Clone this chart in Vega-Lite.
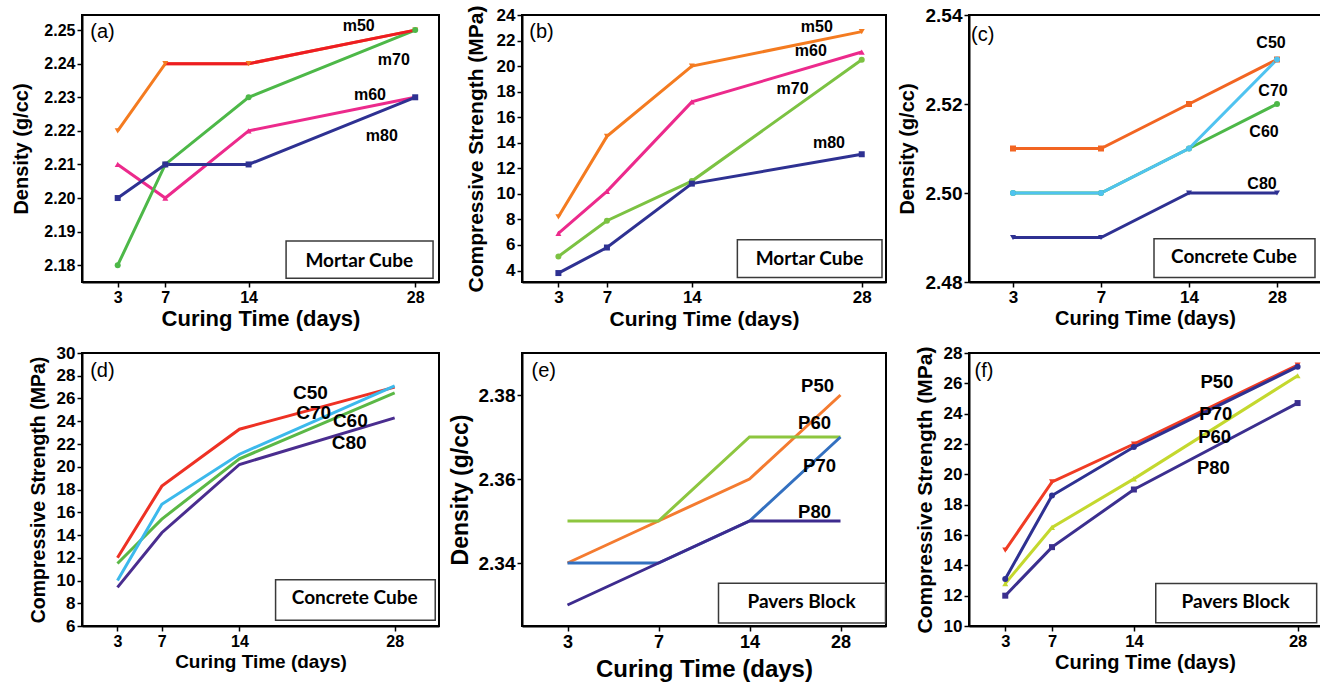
{
 "$schema": "https://vega.github.io/schema/vega-lite/v6.json",
 "background": "white",
 "padding": {"left": 10, "top": 3, "right": 0, "bottom": 0},
 "columns": 3,
 "spacing": {"row": 71, "column": 83},
 "bounds": "flush",
 "resolve": {"scale": {"x": "independent", "y": "independent", "color": "independent", "shape": "independent"}},
 "datasets": {
  "a": [
   {"series": "m50", "day": 3, "value": 2.22}, {"series": "m50", "day": 7, "value": 2.24}, {"series": "m50", "day": 14, "value": 2.24}, {"series": "m50", "day": 28, "value": 2.25},
   {"series": "m60", "day": 3, "value": 2.21}, {"series": "m60", "day": 7, "value": 2.20}, {"series": "m60", "day": 14, "value": 2.22}, {"series": "m60", "day": 28, "value": 2.23},
   {"series": "m70", "day": 3, "value": 2.18}, {"series": "m70", "day": 7, "value": 2.21}, {"series": "m70", "day": 14, "value": 2.23}, {"series": "m70", "day": 28, "value": 2.25},
   {"series": "m80", "day": 3, "value": 2.20}, {"series": "m80", "day": 7, "value": 2.21}, {"series": "m80", "day": 14, "value": 2.21}, {"series": "m80", "day": 28, "value": 2.23}
  ],
  "b": [
   {"series": "m50", "day": 3, "value": 8.2}, {"series": "m50", "day": 7, "value": 14.5}, {"series": "m50", "day": 14, "value": 20.0}, {"series": "m50", "day": 28, "value": 22.7},
   {"series": "m60", "day": 3, "value": 6.9}, {"series": "m60", "day": 7, "value": 10.2}, {"series": "m60", "day": 14, "value": 17.2}, {"series": "m60", "day": 28, "value": 21.1},
   {"series": "m70", "day": 3, "value": 5.1}, {"series": "m70", "day": 7, "value": 7.9}, {"series": "m70", "day": 14, "value": 11.0}, {"series": "m70", "day": 28, "value": 20.5},
   {"series": "m80", "day": 3, "value": 3.8}, {"series": "m80", "day": 7, "value": 5.8}, {"series": "m80", "day": 14, "value": 10.8}, {"series": "m80", "day": 28, "value": 13.1}
  ],
  "c": [
   {"series": "C50", "day": 3, "value": 2.51}, {"series": "C50", "day": 7, "value": 2.51}, {"series": "C50", "day": 14, "value": 2.52}, {"series": "C50", "day": 28, "value": 2.53},
   {"series": "C60", "day": 3, "value": 2.50}, {"series": "C60", "day": 7, "value": 2.50}, {"series": "C60", "day": 14, "value": 2.51}, {"series": "C60", "day": 28, "value": 2.52},
   {"series": "C70", "day": 3, "value": 2.50}, {"series": "C70", "day": 7, "value": 2.50}, {"series": "C70", "day": 14, "value": 2.51}, {"series": "C70", "day": 28, "value": 2.53},
   {"series": "C80", "day": 3, "value": 2.49}, {"series": "C80", "day": 7, "value": 2.49}, {"series": "C80", "day": 14, "value": 2.50}, {"series": "C80", "day": 28, "value": 2.50}
  ],
  "d": [
   {"series": "C50", "day": 3, "value": 12.0}, {"series": "C50", "day": 7, "value": 18.3}, {"series": "C50", "day": 14, "value": 23.3}, {"series": "C50", "day": 28, "value": 27.0},
   {"series": "C60", "day": 3, "value": 11.5}, {"series": "C60", "day": 7, "value": 15.4}, {"series": "C60", "day": 14, "value": 20.7}, {"series": "C60", "day": 28, "value": 26.5},
   {"series": "C70", "day": 3, "value": 10.0}, {"series": "C70", "day": 7, "value": 16.7}, {"series": "C70", "day": 14, "value": 21.1}, {"series": "C70", "day": 28, "value": 27.1},
   {"series": "C80", "day": 3, "value": 9.4}, {"series": "C80", "day": 7, "value": 14.2}, {"series": "C80", "day": 14, "value": 20.2}, {"series": "C80", "day": 28, "value": 24.3}
  ],
  "e": [
   {"series": "P50", "day": 3, "value": 2.34}, {"series": "P50", "day": 7, "value": 2.35}, {"series": "P50", "day": 14, "value": 2.36}, {"series": "P50", "day": 28, "value": 2.38},
   {"series": "P60", "day": 3, "value": 2.35}, {"series": "P60", "day": 7, "value": 2.35}, {"series": "P60", "day": 14, "value": 2.37}, {"series": "P60", "day": 28, "value": 2.37},
   {"series": "P70", "day": 3, "value": 2.34}, {"series": "P70", "day": 7, "value": 2.34}, {"series": "P70", "day": 14, "value": 2.35}, {"series": "P70", "day": 28, "value": 2.37},
   {"series": "P80", "day": 3, "value": 2.33}, {"series": "P80", "day": 7, "value": 2.34}, {"series": "P80", "day": 14, "value": 2.35}, {"series": "P80", "day": 28, "value": 2.35}
  ],
  "f": [
   {"series": "P50", "day": 3, "value": 15.0}, {"series": "P50", "day": 7, "value": 19.5}, {"series": "P50", "day": 14, "value": 22.0}, {"series": "P50", "day": 28, "value": 27.2},
   {"series": "P60", "day": 3, "value": 12.8}, {"series": "P60", "day": 7, "value": 16.5}, {"series": "P60", "day": 14, "value": 19.7}, {"series": "P60", "day": 28, "value": 26.5},
   {"series": "P70", "day": 3, "value": 13.1}, {"series": "P70", "day": 7, "value": 18.6}, {"series": "P70", "day": 14, "value": 21.8}, {"series": "P70", "day": 28, "value": 27.1},
   {"series": "P80", "day": 3, "value": 12.0}, {"series": "P80", "day": 7, "value": 15.2}, {"series": "P80", "day": 14, "value": 19.0}, {"series": "P80", "day": 28, "value": 24.7}
  ]
 },
 "concat": [
  {
   "width": 357, "height": 267,
   "encoding": {
    "x": {"field": "day", "type": "quantitative", "scale": {"domain": [0, 30], "nice": false, "zero": false}, "axis": {"values": [3, 7, 14, 28], "title": "Curing Time (days)", "titleFontSize": 22, "labelFontSize": 16, "titlePadding": 3}},
    "y": {"field": "value", "type": "quantitative", "scale": {"domain": [2.175, 2.2545], "nice": false, "zero": false}, "axis": {"values": [2.18, 2.19, 2.2, 2.21, 2.22, 2.23, 2.24, 2.25], "format": ".2f", "title": "Density (g/cc)", "titleFontSize": 20, "labelFontSize": 16, "titlePadding": 12}}
   },
   "layer": [
    {"data": {"name": "a"}, "mark": {"type": "line", "strokeWidth": 3}, "encoding": {"color": {"field": "series", "type": "nominal", "scale": {"domain": ["m50", "m60", "m70", "m80"], "range": ["#f47b20", "#ec2a8c", "#4db848", "#2e3192"]}, "legend": null}}},
    {"data": {"name": "a"}, "transform": [{"filter": {"and": [{"field": "series", "equal": "m50"}, {"field": "day", "gte": 7}]}}], "mark": {"type": "line", "strokeWidth": 3, "color": "#ed1c24"}, "encoding": {}},
    {"data": {"name": "a"}, "mark": {"type": "point", "filled": true, "size": 36, "opacity": 1}, "encoding": {"color": {"field": "series", "type": "nominal", "scale": {"domain": ["m50", "m60", "m70", "m80"], "range": ["#f47b20", "#ec2a8c", "#4db848", "#2e3192"]}, "legend": null}, "shape": {"field": "series", "type": "nominal", "scale": {"domain": ["m50", "m60", "m70", "m80"], "range": ["triangle-down", "triangle-up", "circle", "square"]}, "legend": null}}},
    {
     "data": {"name": "a"},
     "transform": [{"filter": {"and": [{"field": "series", "equal": "m50"}, {"field": "day", "equal": 3}]}}],
     "layer": [
      {"mark": {"type": "rect", "fill": "white", "stroke": "#3a3a3a", "strokeWidth": 1.5}, "encoding": {"x": {"datum": 17.15}, "x2": {"datum": 29.5}, "y": {"datum": 2.1872}, "y2": {"datum": 2.1761}}},
      {"mark": {"type": "text", "font": "Lato", "fontWeight": "bold", "fontSize": 19, "text": "Mortar Cube"}, "encoding": {"x": {"datum": 23.3}, "y": {"datum": 2.1812}}},
      {"mark": {"type": "text", "fontWeight": "normal", "fontSize": 20, "align": "left", "text": "(a)"}, "encoding": {"x": {"datum": 0.7}, "y": {"datum": 2.2494}}},
      {"mark": {"type": "text", "text": "m50"}, "encoding": {"x": {"datum": 23.25}, "y": {"datum": 2.2512}}},
      {"mark": {"type": "text", "text": "m70"}, "encoding": {"x": {"datum": 26.2}, "y": {"datum": 2.2412}}},
      {"mark": {"type": "text", "text": "m60"}, "encoding": {"x": {"datum": 24.2}, "y": {"datum": 2.2307}}},
      {"mark": {"type": "text", "text": "m80"}, "encoding": {"x": {"datum": 25.2}, "y": {"datum": 2.2186}}}
     ]
    }
   ]
  },
  {
   "width": 364, "height": 267,
   "encoding": {
    "x": {"field": "day", "type": "quantitative", "scale": {"domain": [0, 30], "nice": false, "zero": false}, "axis": {"values": [3, 7, 14, 28], "title": "Curing Time (days)", "titleFontSize": 21, "labelFontSize": 17, "titlePadding": 3}},
    "y": {"field": "value", "type": "quantitative", "scale": {"domain": [3.1, 24], "nice": false, "zero": false}, "axis": {"values": [4, 6, 8, 10, 12, 14, 16, 18, 20, 22, 24], "title": "Compressive Strength (MPa)", "titleFontSize": 21, "labelFontSize": 17, "titlePadding": 10}}
   },
   "layer": [
    {"data": {"name": "b"}, "mark": {"type": "line", "strokeWidth": 3}, "encoding": {"color": {"field": "series", "type": "nominal", "scale": {"domain": ["m50", "m60", "m70", "m80"], "range": ["#f47b20", "#ec2a8c", "#7cc242", "#2e3192"]}, "legend": null}}},
    {"data": {"name": "b"}, "mark": {"type": "point", "filled": true, "size": 36, "opacity": 1}, "encoding": {"color": {"field": "series", "type": "nominal", "scale": {"domain": ["m50", "m60", "m70", "m80"], "range": ["#f47b20", "#ec2a8c", "#7cc242", "#2e3192"]}, "legend": null}, "shape": {"field": "series", "type": "nominal", "scale": {"domain": ["m50", "m60", "m70", "m80"], "range": ["triangle-down", "triangle-up", "circle", "square"]}, "legend": null}}},
    {
     "data": {"name": "b"},
     "transform": [{"filter": {"and": [{"field": "series", "equal": "m50"}, {"field": "day", "equal": 3}]}}],
     "layer": [
      {"mark": {"type": "rect", "fill": "white", "stroke": "#3a3a3a", "strokeWidth": 1.5}, "encoding": {"x": {"datum": 17.75}, "x2": {"datum": 29.67}, "y": {"datum": 6.4}, "y2": {"datum": 3.45}}},
      {"mark": {"type": "text", "font": "Lato", "fontWeight": "bold", "fontSize": 19, "text": "Mortar Cube"}, "encoding": {"x": {"datum": 23.7}, "y": {"datum": 4.88}}},
      {"mark": {"type": "text", "fontWeight": "normal", "fontSize": 20, "align": "left", "text": "(b)"}, "encoding": {"x": {"datum": 0.6}, "y": {"datum": 22.7}}},
      {"mark": {"type": "text", "text": "m50"}, "encoding": {"x": {"datum": 24.3}, "y": {"datum": 23.06}}},
      {"mark": {"type": "text", "text": "m60"}, "encoding": {"x": {"datum": 23.8}, "y": {"datum": 21.16}}},
      {"mark": {"type": "text", "text": "m70"}, "encoding": {"x": {"datum": 22.3}, "y": {"datum": 18.2}}},
      {"mark": {"type": "text", "text": "m80"}, "encoding": {"x": {"datum": 25.3}, "y": {"datum": 13.95}}}
     ]
    }
   ]
  },
  {
   "width": 352, "height": 267,
   "encoding": {
    "x": {"field": "day", "type": "ordinal", "scale": {"type": "point", "domain": [3, 7, 14, 28], "padding": 0.5}, "axis": {"labelAngle": 0, "title": "Curing Time (days)", "titleFontSize": 20, "labelFontSize": 17, "titlePadding": 3}},
    "y": {"field": "value", "type": "quantitative", "scale": {"domain": [2.48, 2.54], "nice": false, "zero": false}, "axis": {"values": [2.48, 2.5, 2.52, 2.54], "format": ".2f", "title": "Density (g/cc)", "titleFontSize": 20, "labelFontSize": 19, "titlePadding": 8}}
   },
   "layer": [
    {"data": {"name": "c"}, "mark": {"type": "line", "strokeWidth": 3}, "encoding": {"color": {"field": "series", "type": "nominal", "scale": {"domain": ["C50", "C60", "C70", "C80"], "range": ["#f26522", "#4db848", "#4fc3f0", "#2e3192"]}, "legend": null}}},
    {"data": {"name": "c"}, "mark": {"type": "point", "filled": true, "size": 36, "opacity": 1}, "encoding": {"color": {"field": "series", "type": "nominal", "scale": {"domain": ["C50", "C60", "C70", "C80"], "range": ["#f26522", "#4db848", "#4fc3f0", "#2e3192"]}, "legend": null}, "shape": {"field": "series", "type": "nominal", "scale": {"domain": ["C50", "C60", "C70", "C80"], "range": ["square", "circle", "circle", "triangle-down"]}, "legend": null}}},
    {
     "data": {"name": "c"},
     "transform": [{"filter": {"and": [{"field": "series", "equal": "C50"}, {"field": "day", "equal": 3}]}}],
     "layer": [
      {"mark": {"type": "rect", "fill": "white", "stroke": "#3a3a3a", "strokeWidth": 1.5, "xOffset": -35, "x2Offset": 38}, "encoding": {"x": {"datum": 14, "type": "ordinal"}, "x2": {"datum": 28}, "y": {"datum": 2.4897}, "y2": {"datum": 2.481}}},
      {"mark": {"type": "text", "font": "Lato", "fontWeight": "bold", "fontSize": 19, "text": "Concrete Cube", "dx": -43}, "encoding": {"x": {"datum": 28, "type": "ordinal"}, "y": {"datum": 2.4857}}},
      {"mark": {"type": "text", "fontWeight": "normal", "fontSize": 20, "align": "left", "text": "(c)", "dx": -42}, "encoding": {"x": {"datum": 3, "type": "ordinal"}, "y": {"datum": 2.5355}}},
      {"mark": {"type": "text", "text": "C50", "dx": -6}, "encoding": {"x": {"datum": 28, "type": "ordinal"}, "y": {"datum": 2.5336}}},
      {"mark": {"type": "text", "text": "C70", "dx": -4}, "encoding": {"x": {"datum": 28, "type": "ordinal"}, "y": {"datum": 2.5229}}},
      {"mark": {"type": "text", "text": "C60", "dx": -13}, "encoding": {"x": {"datum": 28, "type": "ordinal"}, "y": {"datum": 2.5137}}},
      {"mark": {"type": "text", "text": "C80", "dx": -15}, "encoding": {"x": {"datum": 28, "type": "ordinal"}, "y": {"datum": 2.502}}}
     ]
    }
   ]
  },
  {
   "width": 357, "height": 273,
   "encoding": {
    "x": {"field": "day", "type": "quantitative", "scale": {"domain": [-0.2, 32], "nice": false, "zero": false}, "axis": {"values": [3, 7, 14, 28], "title": "Curing Time (days)", "titleFontSize": 19, "labelFontSize": 16, "titlePadding": 3}},
    "y": {"field": "value", "type": "quantitative", "scale": {"domain": [6, 30], "nice": false, "zero": false}, "axis": {"values": [6, 8, 10, 12, 14, 16, 18, 20, 22, 24, 26, 28, 30], "title": "Compressive Strength (MPa)", "titleFontSize": 19.5, "labelFontSize": 17, "titlePadding": 8}}
   },
   "layer": [
    {"data": {"name": "d"}, "mark": {"type": "line", "strokeWidth": 3}, "encoding": {"color": {"field": "series", "type": "nominal", "scale": {"domain": ["C50", "C60", "C70", "C80"], "range": ["#ee3124", "#5bb846", "#3cb9ec", "#4a2d8f"]}, "legend": null}}},
    {
     "data": {"name": "d"},
     "transform": [{"filter": {"and": [{"field": "series", "equal": "C50"}, {"field": "day", "equal": 3}]}}],
     "layer": [
      {"mark": {"type": "rect", "fill": "white", "stroke": "#3a3a3a", "strokeWidth": 1.5}, "encoding": {"x": {"datum": 17.26}, "x2": {"datum": 31.66}, "y": {"datum": 10.06}, "y2": {"datum": 6.5}}},
      {"mark": {"type": "text", "font": "Lato", "fontWeight": "bold", "fontSize": 19, "text": "Concrete Cube"}, "encoding": {"x": {"datum": 24.4}, "y": {"datum": 8.42}}},
      {"mark": {"type": "text", "fontWeight": "normal", "fontSize": 20, "align": "left", "text": "(d)"}, "encoding": {"x": {"datum": 0.54}, "y": {"datum": 28.4}}},
      {"mark": {"type": "text", "text": "C50", "fontSize": 19}, "encoding": {"x": {"datum": 20.4}, "y": {"datum": 26.5}}},
      {"mark": {"type": "text", "text": "C70", "fontSize": 19}, "encoding": {"x": {"datum": 20.7}, "y": {"datum": 24.7}}},
      {"mark": {"type": "text", "text": "C60", "fontSize": 19}, "encoding": {"x": {"datum": 24.0}, "y": {"datum": 24.0}}},
      {"mark": {"type": "text", "text": "C80", "fontSize": 19}, "encoding": {"x": {"datum": 23.9}, "y": {"datum": 22.05}}}
     ]
    }
   ]
  },
  {
   "width": 364, "height": 273,
   "encoding": {
    "x": {"field": "day", "type": "ordinal", "scale": {"type": "point", "domain": [3, 7, 14, 28], "padding": 0.5}, "axis": {"labelAngle": 0, "title": "Curing Time (days)", "titleFontSize": 24, "labelFontSize": 18, "titlePadding": 6}},
    "y": {"field": "value", "type": "quantitative", "scale": {"domain": [2.325, 2.39], "nice": false, "zero": false}, "axis": {"values": [2.34, 2.36, 2.38], "format": ".2f", "title": "Density (g/cc)", "titleFontSize": 23, "labelFontSize": 19, "titlePadding": 6}}
   },
   "layer": [
    {"data": {"name": "e"}, "mark": {"type": "line", "strokeWidth": 3}, "encoding": {"color": {"field": "series", "type": "nominal", "scale": {"domain": ["P50", "P60", "P70", "P80"], "range": ["#f47b30", "#8dc63f", "#3370c0", "#3d2b8e"]}, "legend": null}}},
    {
     "data": {"name": "e"},
     "transform": [{"filter": {"and": [{"field": "series", "equal": "P50"}, {"field": "day", "equal": 3}]}}],
     "layer": [
      {"mark": {"type": "rect", "fill": "white", "stroke": "#3a3a3a", "strokeWidth": 1.5, "xOffset": -31, "x2Offset": 45}, "encoding": {"x": {"datum": 14, "type": "ordinal"}, "x2": {"datum": 28}, "y": {"datum": 2.3352}, "y2": {"datum": 2.3257}}},
      {"mark": {"type": "text", "font": "Lato", "fontWeight": "bold", "fontSize": 19, "text": "Pavers Block", "dx": -39}, "encoding": {"x": {"datum": 28, "type": "ordinal"}, "y": {"datum": 2.3307}}},
      {"mark": {"type": "text", "fontWeight": "normal", "fontSize": 20, "align": "left", "text": "(e)", "dx": -36}, "encoding": {"x": {"datum": 3, "type": "ordinal"}, "y": {"datum": 2.3856}}},
      {"mark": {"type": "text", "text": "P50", "dx": -23, "fontSize": 18.5}, "encoding": {"x": {"datum": 28, "type": "ordinal"}, "y": {"datum": 2.3821}}},
      {"mark": {"type": "text", "text": "P60", "dx": -26, "fontSize": 18.5}, "encoding": {"x": {"datum": 28, "type": "ordinal"}, "y": {"datum": 2.3733}}},
      {"mark": {"type": "text", "text": "P70", "dx": -21, "fontSize": 18.5}, "encoding": {"x": {"datum": 28, "type": "ordinal"}, "y": {"datum": 2.3631}}},
      {"mark": {"type": "text", "text": "P80", "dx": -26, "fontSize": 18.5}, "encoding": {"x": {"datum": 28, "type": "ordinal"}, "y": {"datum": 2.3521}}}
     ]
    }
   ]
  },
  {
   "width": 352, "height": 273,
   "encoding": {
    "x": {"field": "day", "type": "quantitative", "scale": {"domain": [-0.1, 30], "nice": false, "zero": false}, "axis": {"values": [3, 7, 14, 28], "title": "Curing Time (days)", "titleFontSize": 20, "labelFontSize": 16.5, "titlePadding": 3}},
    "y": {"field": "value", "type": "quantitative", "scale": {"domain": [10, 28], "nice": false, "zero": false}, "axis": {"values": [10, 12, 14, 16, 18, 20, 22, 24, 26, 28], "title": "Compressive Strength (MPa)", "titleFontSize": 21, "labelFontSize": 17, "titlePadding": 8}}
   },
   "layer": [
    {"data": {"name": "f"}, "mark": {"type": "line", "strokeWidth": 3}, "encoding": {"color": {"field": "series", "type": "nominal", "scale": {"domain": ["P50", "P60", "P70", "P80"], "range": ["#f03c24", "#c4d82e", "#2e3192", "#3b2f8f"]}, "legend": null}}},
    {"data": {"name": "f"}, "mark": {"type": "point", "filled": true, "size": 36, "opacity": 1}, "encoding": {"color": {"field": "series", "type": "nominal", "scale": {"domain": ["P50", "P60", "P70", "P80"], "range": ["#f03c24", "#c4d82e", "#2e3192", "#3b2f8f"]}, "legend": null}, "shape": {"field": "series", "type": "nominal", "scale": {"domain": ["P50", "P60", "P70", "P80"], "range": ["triangle-down", "triangle-up", "circle", "square"]}, "legend": null}}},
    {
     "data": {"name": "f"},
     "transform": [{"filter": {"and": [{"field": "series", "equal": "P50"}, {"field": "day", "equal": 3}]}}],
     "layer": [
      {"mark": {"type": "rect", "fill": "white", "stroke": "#3a3a3a", "strokeWidth": 1.5}, "encoding": {"x": {"datum": 15.87}, "x2": {"datum": 29.63}, "y": {"datum": 12.81}, "y2": {"datum": 10.22}}},
      {"mark": {"type": "text", "font": "Lato", "fontWeight": "bold", "fontSize": 19, "text": "Pavers Block"}, "encoding": {"x": {"datum": 22.7}, "y": {"datum": 11.59}}},
      {"mark": {"type": "text", "fontWeight": "normal", "fontSize": 20, "align": "left", "text": "(f)"}, "encoding": {"x": {"datum": 0.38}, "y": {"datum": 26.8}}},
      {"mark": {"type": "text", "text": "P50", "fontSize": 18.5}, "encoding": {"x": {"datum": 21.1}, "y": {"datum": 26.07}}},
      {"mark": {"type": "text", "text": "P70", "fontSize": 18.5}, "encoding": {"x": {"datum": 21.0}, "y": {"datum": 24.0}}},
      {"mark": {"type": "text", "text": "P60", "fontSize": 18.5}, "encoding": {"x": {"datum": 20.9}, "y": {"datum": 22.45}}},
      {"mark": {"type": "text", "text": "P80", "fontSize": 18.5}, "encoding": {"x": {"datum": 20.8}, "y": {"datum": 20.43}}}
     ]
    }
   ]
  }
 ],
 "config": {
  "font": "Liberation Sans",
  "view": {"stroke": "black", "strokeWidth": 2},
  "axis": {"grid": false, "domainColor": "black", "domainWidth": 2, "tickColor": "black", "tickWidth": 1.5, "tickSize": 5, "labelColor": "black", "labelFont": "Liberation Sans", "labelFontWeight": "bold", "labelPadding": 2, "titleColor": "black", "titleFont": "Liberation Sans", "titleFontWeight": "bold"},
  "text": {"font": "Liberation Sans", "fontWeight": "bold", "fontSize": 16, "align": "center", "baseline": "middle", "color": "black"}
 }
}
